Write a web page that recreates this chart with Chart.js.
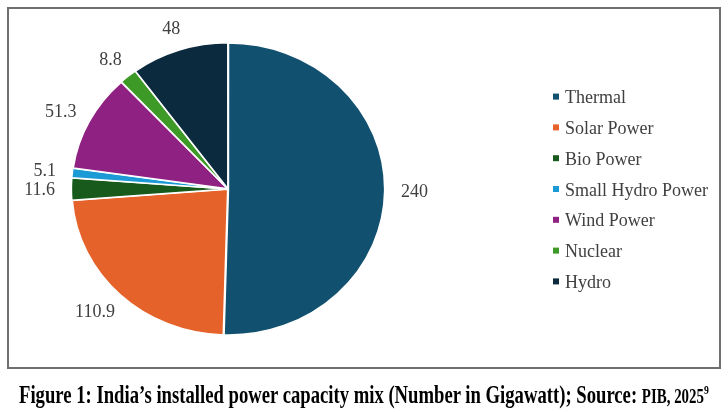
<!DOCTYPE html>
<html><head><meta charset="utf-8">
<script src="https://cdn.jsdelivr.net/npm/chart.js@4.4.1/dist/chart.umd.min.js"></script>
<style>
html,body{margin:0;padding:0;background:#fff;}
#wrap{position:relative;width:728px;height:412px;overflow:hidden;background:#fff;}
#frame{position:absolute;left:7px;top:7px;width:710px;height:358px;border:2px solid #6f6f6f;}
#c{position:absolute;left:0;top:0;}
#cap{position:absolute;left:19px;top:376px;white-space:nowrap;font-family:"Liberation Serif","Times New Roman",serif;font-weight:bold;font-size:25px;line-height:28px;color:#000;transform-origin:0 0;}
#cap .sm{font-size:20px;}
#cap .sup{font-size:13px;vertical-align:9px;}
</style></head>
<body>
<div id="wrap">
  <div id="frame"></div>
  <canvas id="c" width="728" height="412"></canvas>
  <div id="cap">Figure 1: India’s installed power capacity mix (Number in Gigawatt); Source: <span class="sm">PIB, 2025</span><span class="sup">9</span></div>
</div>
<script>
const categories = ['Thermal','Solar Power','Bio Power','Small Hydro Power','Wind Power','Nuclear','Hydro'];
const capacityGW = [240, 110.9, 11.6, 5.1, 51.3, 8.8, 48];
const valueLabels = ['240','110.9','11.6','5.1','51.3','8.8','48'];
const sliceColors = ['#12506f','#e6622b','#175a1c','#1b9ad6','#8e2181','#3e9a26','#0b2a3e'];

const SX = 1.07;           // horizontal stretch of the pie (ellipse in reference)
const LABEL_GAP = 16;
const FONT = '"Liberation Serif","Times New Roman",serif';

const stretchPlugin = {
  id: 'stretch',
  beforeDatasetsDraw(chart) {
    const a = chart.getDatasetMeta(0).data[0];
    const ctx = chart.ctx;
    ctx.save();
    ctx.translate(a.x, a.y);
    ctx.scale(SX, 1);
    ctx.translate(-a.x, -a.y);
  },
  afterDatasetsDraw(chart) { chart.ctx.restore(); }
};

const labelPlugin = {
  id: 'outLabels',
  afterDraw(chart) {
    const ctx = chart.ctx;
    const meta = chart.getDatasetMeta(0);
    ctx.save();
    ctx.font = '18px ' + FONT;
    ctx.fillStyle = '#404040';
    ctx.textAlign = 'center';
    ctx.textBaseline = 'middle';
    meta.data.forEach((arc, i) => {
      const p = arc.getProps(['x','y','startAngle','endAngle','outerRadius'], true);
      const mid = (p.startAngle + p.endAngle) / 2;
      const c = Math.cos(mid), s = Math.sin(mid);
      const txt = valueLabels[i];
      const w = ctx.measureText(txt).width, h = 14;
      const R = p.outerRadius + LABEL_GAP;
      const ax = p.x + c * R * SX, ay = p.y + s * R;
      ctx.fillText(txt, ax + c * w / 2, ay + s * h / 2 + 1);
    });
    ctx.restore();
  }
};

const legendPlugin = {
  id: 'sideLegend',
  afterDraw(chart) {
    const ctx = chart.ctx;
    const ds = chart.data.datasets[0];
    const n = chart.data.labels.length;
    const gap = 30.8;
    const cy = (chart.chartArea.top + chart.chartArea.bottom) / 2;
    const y0 = cy - gap * (n - 1) / 2;
    const bx = 553, tx = 565;
    ctx.save();
    ctx.font = '18px ' + FONT;
    ctx.textAlign = 'left';
    ctx.textBaseline = 'alphabetic';
    chart.data.labels.forEach((lab, i) => {
      const y = y0 + i * gap;
      ctx.fillStyle = ds.backgroundColor[i];
      ctx.fillRect(bx, y - 3, 6, 6);
      ctx.fillStyle = '#404040';
      ctx.fillText(lab, tx, y + 6.5);
    });
    ctx.restore();
  }
};

new Chart(document.getElementById('c'), {
  type: 'pie',
  data: {
    labels: categories,
    datasets: [{
      data: capacityGW,
      backgroundColor: sliceColors,
      borderColor: '#ffffff',
      borderWidth: 1.5,
      offset: 1.5,
      radius: 145.7
    }]
  },
  options: {
    responsive: false,
    animation: false,
    devicePixelRatio: 1,
    layout: { padding: { left: 0, top: 0, right: 272, bottom: 34 } },
    plugins: { legend: { display: false }, tooltip: { enabled: false } }
  },
  plugins: [stretchPlugin, labelPlugin, legendPlugin]
});

// fit caption to reference width
const cap = document.getElementById('cap');
const natural = cap.scrollWidth;
cap.style.transform = 'scaleX(' + (690 / natural) + ')';
</script>
</body></html>
